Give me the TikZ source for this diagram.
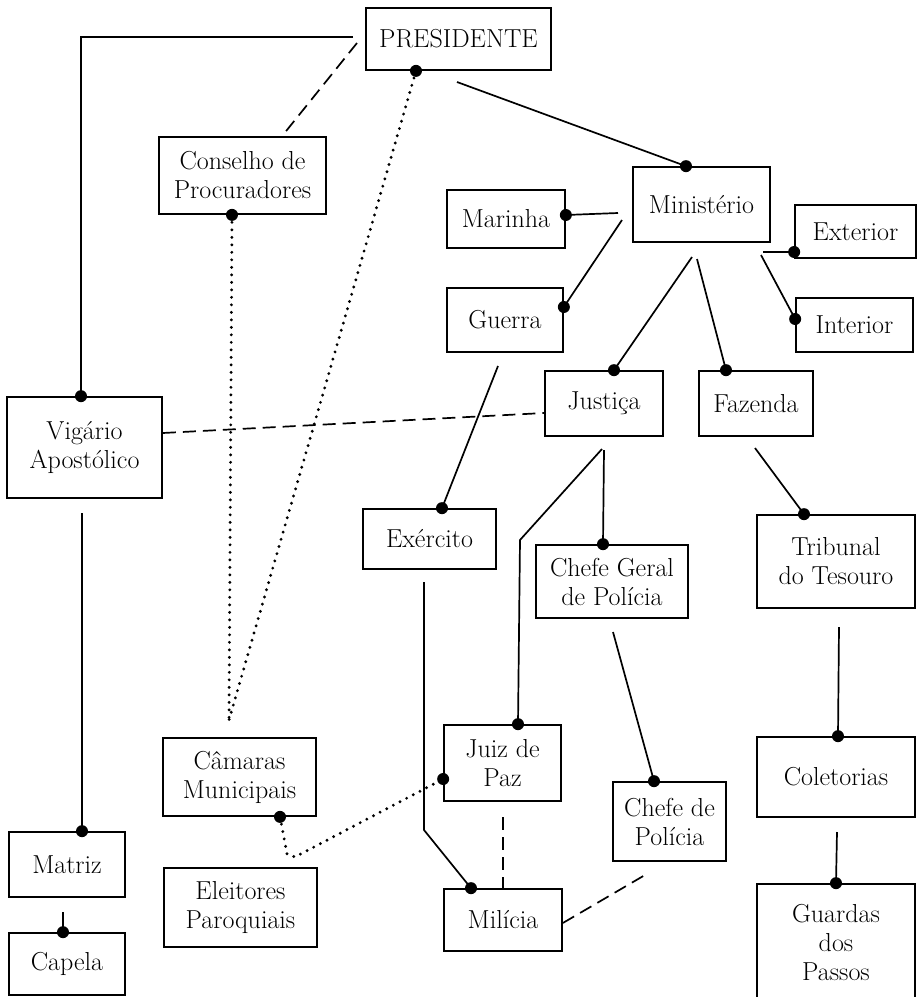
\documentclass[tikz,border=0pt]{standalone}
\usetikzlibrary{calc}
\begin{document}
\begin{tikzpicture}[x=1pt,y=-1pt,
  box/.style={draw,line width=1.7pt,inner sep=0pt,align=center,
    font=\fontsize{26}{29}\selectfont},
  conn/.style={line width=1.7pt},
  dashconn/.style={line width=1.7pt,dash pattern=on 13pt off 7pt},
  dotconn/.style={line width=3.2pt,line cap=round,dash pattern=on 0pt off 7.5pt},
  jdot/.style={fill=black}]
\useasboundingbox (0,0) rectangle (921,997);
\fill[white] (0,0) rectangle (921,997);

% nodes
\node[box,minimum width=185pt,minimum height=62pt] (pres) at (458.5,39) {PRESIDENTE};
\node[box,minimum width=167pt,minimum height=77pt] (cons) at (242.5,175.5) {Conselho de\\Procuradores};
\node[box,minimum width=137pt,minimum height=75pt] (min) at (701.5,204.5) {Ministério};
\node[box,minimum width=118pt,minimum height=58pt] (mar) at (506,219) {Marinha};
\node[box,minimum width=121pt,minimum height=53pt] (ext) at (855.5,231.5) {Exterior};
\node[box,minimum width=116pt,minimum height=64pt] (gue) at (505,320) {Guerra};
\node[box,minimum width=117pt,minimum height=54pt] (int) at (854.5,325) {Interior};
\node[box,minimum width=118pt,minimum height=65pt] (jus) at (604,403.5) {Justiça};
\node[box,minimum width=114pt,minimum height=65pt] (faz) at (756,403.5) {Fazenda};
\node[box,minimum width=155pt,minimum height=101pt] (vig) at (84.5,447.5) {Vigário\\Apostólico};
\node[box,minimum width=133pt,minimum height=60pt] (exe) at (429.5,539) {Exército};
\node[box,minimum width=158pt,minimum height=93pt] (trib) at (836,561.5) {Tribunal\\do Tesouro};
\node[box,minimum width=152pt,minimum height=73pt] (cgp) at (612,581.5) {Chefe Geral\\de Polícia};
\node[box,minimum width=153pt,minimum height=78pt] (cam) at (239.5,777) {Câmaras\\Municipais};
\node[box,minimum width=117pt,minimum height=76pt] (jp) at (502.5,763) {Juiz de\\Paz};
\node[box,minimum width=158pt,minimum height=80pt] (col) at (836,777) {Coletorias};
\node[box,minimum width=113pt,minimum height=79pt] (cdp) at (669.5,821.5) {Chefe de\\Polícia};
\node[box,minimum width=116pt,minimum height=65pt] (mat) at (67,864.5) {Matriz};
\node[box,minimum width=153pt,minimum height=79pt] (ele) at (240.5,907.5) {Eleitores\\Paroquiais};
\node[box,minimum width=118pt,minimum height=62pt] (mil) at (503,920) {Milícia};
\node[box,minimum width=116pt,minimum height=62pt] (cap) at (67,964) {Capela};
\node[box,minimum width=158pt,minimum height=118pt] (gua) at (836,943) {Guardas\\dos\\Passos};

% free ends
\coordinate (pA) at (353,37);
\coordinate (pB) at (81,37);
\coordinate (pC) at (357,43);
\coordinate (vV) at (229,720);
\coordinate (pM) at (457,82);
\coordinate (mA) at (618,213);
\coordinate (mB) at (622,220);
\coordinate (mC) at (763,252);
\coordinate (mD) at (761,255);
\coordinate (mE) at (692,257);
\coordinate (mF) at (697,259);
\coordinate (gA) at (498,366);
\coordinate (vA) at (82,513);
\coordinate (mtA) at (63,912);
\coordinate (fA) at (755,448);
\coordinate (jA) at (602,449);
\coordinate (jB) at (520,540);
\coordinate (jC) at (604,450);
\coordinate (eA) at (424,582);
\coordinate (eB) at (424,830);
\coordinate (cA) at (613,632);
\coordinate (kA) at (287,854);
\coordinate (kB) at (295,857);
\coordinate (jpA) at (503,817);
\coordinate (cdA) at (645,875);
\coordinate (tA) at (839,627);
\coordinate (coA) at (837,832);

% dot positions on borders
\coordinate (dPres) at (416,0 |- pres.south);
\coordinate (dCons) at (232,0 |- cons.south);
\coordinate (dVig) at (81,0 |- vig.north);
\coordinate (dMin) at (686,0 |- min.north);
\coordinate (dMar) at (mar.east |- 0,215);
\coordinate (dGue) at (gue.east |- 0,307);
\coordinate (dExt) at (ext.west |- 0,252);
\coordinate (dInt) at (int.west |- 0,319);
\coordinate (dJus) at (614,0 |- jus.north);
\coordinate (dFaz) at (726,0 |- faz.north);
\coordinate (dExe) at (442,0 |- exe.north);
\coordinate (dMat) at (82,0 |- mat.north);
\coordinate (dCap) at (63,0 |- cap.north);
\coordinate (dTrib) at (804,0 |- trib.north);
\coordinate (dJp) at (518,0 |- jp.north);
\coordinate (dCgp) at (603,0 |- cgp.north);
\coordinate (dMil) at (471,0 |- mil.north);
\coordinate (dCdp) at (654,0 |- cdp.north);
\coordinate (dCam) at (280,0 |- cam.south);
\coordinate (dJpW) at (jp.west |- 0,779);
\coordinate (dCol) at (838,0 |- col.north);
\coordinate (dGua) at (836,0 |- gua.north);

% solid connectors
\draw[conn] (pA) -- (pB) -- (dVig);
\draw[conn] (pM) -- (dMin);
\draw[conn] (mA) -- (dMar);
\draw[conn] (mB) -- (dGue);
\draw[conn] (mC) -- (dExt);
\draw[conn] (mD) -- (dInt);
\draw[conn] (mE) -- (dJus);
\draw[conn] (mF) -- (dFaz);
\draw[conn] (gA) -- (dExe);
\draw[conn] (vA) -- (dMat);
\draw[conn] (mtA) -- (dCap);
\draw[conn] (fA) -- (dTrib);
\draw[conn] (jA) -- (jB) -- (dJp);
\draw[conn] (jC) -- (dCgp);
\draw[conn] (eA) -- (eB) -- (dMil);
\draw[conn] (cA) -- (dCdp);
\draw[conn] (tA) -- (dCol);
\draw[conn] (coA) -- (dGua);

% dashed connectors
\draw[dashconn] (pC) -- (cons.north -| 282,0);
\draw[dashconn] (vig.east |- 0,433) -- (jus.west |- 0,413);
\draw[dashconn] (jpA) -- (mil.north -| jpA);
\draw[dashconn] (mil.east |- 0,923) -- (cdA);

% dotted connectors
\draw[dotconn] (dPres) -- (vV);
\draw[dotconn] (dCons) -- (vV);
\draw[dotconn] (dCam) -- (kA) -- (kB) -- (dJpW);

% dots
\foreach \p in {dPres,dCons,dVig,dMin,dMar,dGue,dExt,dInt,dJus,dFaz,dExe,dMat,dCap,dTrib,dJp,dCgp,dMil,dCdp,dCam,dJpW,dCol,dGua}
  \fill[jdot] (\p) circle[radius=6pt];
\end{tikzpicture}
\end{document}
